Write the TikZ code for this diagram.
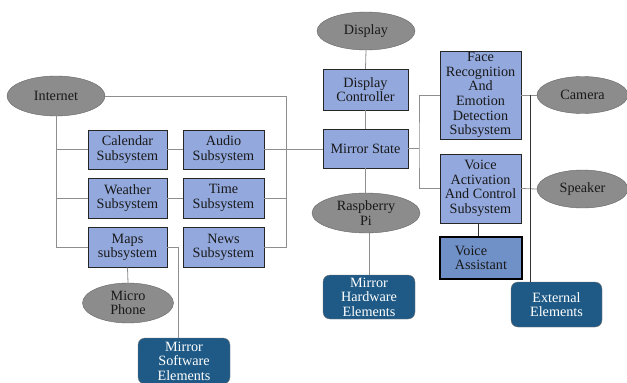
\documentclass[tikz,border=0pt]{standalone}
\usepackage{fontspec}
\setmainfont{Liberation Serif}
\usetikzlibrary{shapes.geometric}

\definecolor{subblue}{HTML}{93A9DE}
\definecolor{vablue}{HTML}{7090C8}
\definecolor{darkblue}{HTML}{1F5A86}
\definecolor{ellgray}{HTML}{8C8C8C}
\definecolor{wiregray}{HTML}{8E8E8E}

\tikzset{
  subbox/.style={draw=black!85, fill=subblue, inner sep=0pt, align=center, text=black!90},
  extbox/.style={draw=black!60, fill=ellgray, ellipse, inner sep=0pt, align=center, text=black!90},
  groupbox/.style={draw=black!55, fill=darkblue, rounded corners=7pt, inner sep=0pt, align=center, text=white},
  wire/.style={draw=wiregray, line width=0.8pt},
  darkwire/.style={draw=black!80, line width=0.8pt}
}

\begin{document}
\begin{tikzpicture}[x=1pt, y=-1pt, font=\fontsize{14.2}{14.6}\selectfont]
    \useasboundingbox (0,0) rectangle (627,383);
    % left: internet and software subsystems
    \node [extbox, minimum width=98, minimum height=40] (internet) at (56,96) {Internet};
    \node [subbox, minimum width=79, minimum height=39] (calendar) at (127.5,149.5) {Calendar\\Subsystem};
    \node [subbox, minimum width=81, minimum height=39] (audio) at (223.5,149.5) {Audio\\Subsystem};
    \node [subbox, minimum width=79, minimum height=40] (weather) at (127.5,198) {Weather\\Subsystem};
    \node [subbox, minimum width=81, minimum height=40] (time) at (223.5,198) {Time\\Subsystem};
    \node [subbox, minimum width=79, minimum height=40] (maps) at (127.5,247.5) {Maps\\subsystem};
    \node [subbox, minimum width=81, minimum height=40] (news) at (223.5,247.5) {News\\Subsystem};
    \node [extbox, minimum width=91, minimum height=40] (micro) at (128,303) {Micro\\Phone};
    \node [groupbox, minimum width=92, minimum height=46] (software) at (184,361) {Mirror\\Software\\Elements};
    % middle: display, mirror state, raspberry pi
    \node [extbox, minimum width=98, minimum height=38] (display) at (366,31) {Display};
    \node [subbox, minimum width=85, minimum height=41] (dispctrl) at (365.5,89.5) {Display\\Controller};
    \node [subbox, minimum width=85, minimum height=39] (state) at (365.5,148.5) {Mirror State};
    \node [extbox, minimum width=108, minimum height=40] (raspberry) at (366,213) {Raspberry\\Pi};
    \node [groupbox, minimum width=92, minimum height=44] (hardware) at (369,297) {Mirror\\Hardware\\Elements};
    % right: face and voice subsystems
    \node [subbox, minimum width=81, minimum height=88] (face) at (480.5,95) {Face\\Recognition\\And\\Emotion\\Detection\\Subsystem};
    \node [subbox, minimum width=81, minimum height=69] (voice) at (480.5,188.5) {Voice\\Activation\\And Control\\Subsystem};
    \node [subbox, fill=vablue, draw=black, line width=1.8pt, align=left, minimum width=82, minimum height=42] (assistant) at (481,258) {Voice\\Assistant};
    \node [extbox, minimum width=91, minimum height=37] (camera) at (582.5,95) {Camera};
    \node [extbox, minimum width=91, minimum height=38] (speaker) at (582.5,189) {Speaker};
    \node [groupbox, minimum width=91, minimum height=45] (external) at (556.5,304.5) {External\\Elements};

    \coordinate (ibus) at (286,247.5);
    \coordinate (swtap) at (178,247.5);
    \coordinate (sbus) at (419,148.5);
    \coordinate (ebus) at (530,95);

    \draw [wire] (internet.east) -| (ibus) -- (news.east);
    \draw [wire] (time.east) -- (time.east -| ibus);
    \draw [wire] (internet.south) |- (maps.west);
    \draw [wire] (calendar.west) -- (calendar.west -| internet.south);
    \draw [wire] (weather.west) -- (weather.west -| internet.south);
    \draw [wire] (calendar.east) -- (audio.west);
    \draw [wire] (weather.east) -- (time.west);
    \draw [wire] (audio.east) -- (audio.east -| state.west);
    \draw [wire] (maps.east) -- (swtap) -- (swtap |- software.north);
    \draw [wire] (maps.south) -- (micro.north);
    \draw [wire] (display.south) -- (dispctrl.north);
    \draw [wire] (dispctrl.south) -- (state.north);
    \draw [wire] (state.south) -- (state.south |- raspberry.north);
    \draw [wire] (hardware.north) -- (hardware.north |- raspberry.south);
    \draw [wire] (state.east) -- (sbus);
    \draw [wire] (face.west) -| (sbus) |- (voice.west);
    \draw [wire] (face.east) -- (camera.west);
    \draw [wire] (voice.east) -- (speaker.west);
    \draw [darkwire] (ebus) -- (ebus |- external.north);
    \draw [darkwire] (voice.south -| 478,0) -- (assistant.north -| 478,0);
  \end{tikzpicture}
\end{document}
